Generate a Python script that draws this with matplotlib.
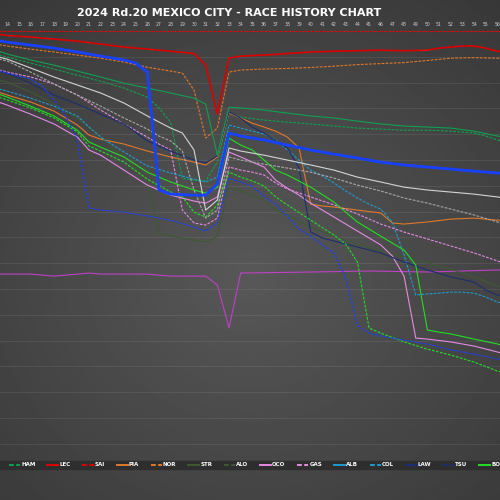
import numpy as np
import matplotlib
matplotlib.use('Agg')
import matplotlib.pyplot as plt
from matplotlib.lines import Line2D
from matplotlib.patches import Rectangle

title = "2024 Rd.20 MEXICO CITY - RACE HISTORY CHART"
total_laps = 71

# gap behind the race winner (SAI) in seconds, read at the laps where each line bends
sai_laps = [13, 57]
sai_gap = [0.0, 0.0]

lec_laps = [13, 14, 16, 18, 20, 22, 24, 26, 28, 30, 31, 32, 33, 34, 36, 38, 40, 42, 44, 46, 48, 50, 51, 52, 53, 54, 55, 56, 57]
lec_gap = [1.0, 1.7, 2.3, 3.1, 3.9, 5.0, 6.2, 7.0, 7.8, 8.7, 13.2, 32.2, 10.5, 9.7, 9.3, 8.7, 8.1, 7.8, 7.6, 7.4, 7.6, 7.4, 6.6, 6.2, 5.8, 5.8, 6.6, 7.8, 8.5]

nor_laps = [13, 14, 16, 18, 20, 22, 24, 26, 28, 29, 30, 31, 32, 33, 34, 36, 38, 40, 42, 44, 46, 48, 50, 52, 54, 56, 57]
nor_gap = [5.0, 5.8, 7.0, 8.1, 9.3, 10.5, 12.0, 14.0, 15.5, 16.3, 22.9, 41.5, 37.6, 15.9, 15.1, 14.7, 14.5, 14.1, 13.6, 13.0, 12.6, 12.2, 11.4, 10.5, 10.3, 10.5, 10.5]

ver_laps = [13, 14, 16, 18, 20, 22, 24, 25, 26, 27, 28, 30, 31, 32, 33, 34, 36, 38, 40, 42, 44, 46, 48, 50, 52, 54, 56, 57]
ver_gap = [3.5, 4.3, 5.4, 6.6, 8.1, 9.7, 11.2, 12.4, 15.9, 61.6, 63.2, 63.6, 63.6, 59.3, 39.5, 40.7, 42.2, 44.2, 46.1, 47.7, 49.2, 50.8, 51.9, 52.7, 53.5, 54.3, 55.0, 55.4]

rus_laps = [13, 14, 16, 18, 20, 22, 24, 26, 28, 30, 31, 32, 33, 34, 36, 38, 40, 42, 44, 46, 48, 50, 52, 54, 56, 57]
rus_gap = [7.4, 8.9, 11.2, 13.2, 15.5, 17.8, 20.2, 22.1, 24.0, 26.0, 28.3, 48.1, 29.5, 29.8, 30.6, 31.8, 32.9, 33.7, 34.9, 36.0, 36.8, 37.2, 37.6, 38.8, 40.7, 41.5]

ham_laps = [13, 14, 16, 18, 20, 22, 24, 26, 27, 28, 29, 30, 31, 32, 33, 34, 36, 38, 40, 42, 44, 46, 48, 50, 52, 54, 55, 56, 57]
ham_gap = [8.9, 10.1, 12.4, 14.7, 17.1, 19.4, 22.1, 25.6, 29.8, 35.3, 57.0, 57.8, 58.1, 50.8, 31.8, 33.3, 34.5, 35.3, 36.0, 36.8, 37.6, 38.0, 38.4, 38.4, 38.8, 39.5, 40.7, 42.2, 43.4]

mag_laps = [13, 14, 16, 18, 20, 22, 24, 26, 28, 29, 30, 31, 32, 33, 34, 36, 38, 40, 42, 44, 46, 48, 50, 52, 54, 56, 57]
mag_gap = [9.7, 10.9, 14.3, 17.8, 20.9, 24.0, 27.9, 32.9, 37.6, 39.5, 46.1, 69.4, 65.5, 45.3, 46.5, 48.1, 50.0, 51.9, 53.9, 56.6, 58.5, 60.5, 61.6, 62.4, 63.2, 64.3, 65.1]

hul_laps = [13, 14, 16, 18, 20, 22, 24, 26, 27, 28, 29, 30, 31, 32, 33, 34, 36, 38, 40, 42, 44, 46, 48, 50, 52, 54, 56, 57]
hul_gap = [10.5, 11.6, 15.9, 20.5, 24.8, 29.1, 33.7, 38.0, 40.7, 42.6, 46.5, 61.6, 72.5, 69.4, 48.8, 50.0, 51.6, 53.1, 54.7, 57.0, 59.7, 62.0, 64.7, 66.7, 69.0, 71.3, 74.0, 75.6]

gas_laps = [13, 14, 16, 18, 20, 22, 24, 26, 27, 28, 29, 30, 31, 32, 33, 34, 35, 36, 37, 38, 40, 42, 44, 46, 48, 50, 52, 54, 56, 57]
gas_gap = [14.7, 15.9, 17.8, 20.5, 24.8, 30.6, 36.0, 41.1, 43.8, 46.1, 69.4, 74.4, 75.2, 72.5, 52.7, 53.9, 54.7, 55.8, 58.9, 61.2, 64.3, 67.4, 70.9, 74.8, 77.9, 80.6, 83.3, 86.0, 89.1, 90.7]

law_laps = [13, 14, 16, 18, 20, 22, 24, 26, 28, 30, 31, 32, 33, 34, 35, 36, 37, 38, 39, 40, 41, 42, 44, 46, 48, 50, 52, 54, 55, 56, 57]
law_gap = [15.1, 16.3, 20.2, 24.8, 28.3, 32.2, 36.0, 42.6, 46.5, 50.0, 51.2, 48.4, 31.4, 33.7, 37.2, 39.5, 42.6, 45.3, 53.1, 77.9, 80.2, 81.4, 83.7, 86.0, 89.5, 92.6, 95.3, 97.3, 100.4, 102.3, 103.5]

pia_laps = [13, 14, 16, 18, 20, 21, 22, 24, 26, 28, 30, 31, 32, 33, 34, 35, 36, 37, 38, 39, 40, 41, 42, 44, 46, 47, 48, 50, 52, 54, 56, 57]
pia_gap = [23.3, 24.8, 27.5, 31.0, 36.4, 40.3, 41.9, 43.8, 46.5, 48.8, 50.8, 51.9, 48.8, 31.8, 33.7, 35.7, 37.2, 38.8, 41.1, 45.3, 67.1, 67.8, 68.2, 69.4, 70.5, 74.4, 74.8, 74.0, 72.9, 72.5, 73.3, 73.6]

col_laps = [13, 14, 16, 18, 20, 21, 22, 24, 26, 28, 30, 31, 32, 33, 34, 35, 36, 37, 38, 39, 40, 41, 42, 43, 44, 45, 46, 47, 48, 49, 50, 51, 52, 53, 54, 55, 56, 57]
col_gap = [22.1, 23.3, 26.0, 29.1, 32.9, 37.2, 41.1, 46.9, 52.3, 55.0, 57.4, 58.5, 56.6, 36.4, 37.6, 38.8, 39.9, 42.2, 46.1, 50.0, 53.9, 56.2, 58.9, 62.0, 64.7, 67.1, 69.0, 74.0, 86.8, 102.3, 101.9, 101.6, 101.2, 101.2, 101.6, 103.1, 105.0, 106.2]

bot_laps = [13, 14, 16, 18, 20, 21, 22, 24, 26, 28, 30, 31, 32, 33, 34, 35, 36, 37, 38, 40, 42, 43, 44, 46, 47, 48, 49, 50, 51, 52, 54, 56, 57]
bot_gap = [24.0, 25.6, 29.1, 32.9, 38.4, 43.0, 45.0, 48.8, 54.7, 58.5, 61.6, 62.8, 60.5, 41.5, 44.2, 46.1, 50.0, 53.9, 55.8, 60.5, 66.3, 70.2, 74.0, 79.5, 82.2, 84.9, 90.7, 115.9, 116.7, 117.4, 119.4, 121.3, 122.5]

oco_laps = [13, 14, 16, 18, 20, 21, 22, 24, 26, 28, 30, 31, 32, 33, 34, 35, 36, 37, 38, 39, 40, 42, 44, 46, 47, 48, 49, 50, 52, 54, 56, 57]
oco_gap = [27.1, 28.7, 32.2, 36.0, 41.1, 46.1, 48.1, 53.9, 59.7, 63.6, 65.9, 66.7, 64.3, 46.9, 48.8, 50.8, 52.7, 57.8, 60.9, 63.6, 66.7, 72.1, 77.5, 82.9, 87.2, 95.0, 119.0, 119.4, 120.5, 122.1, 124.4, 125.6]

zho_laps = [13, 14, 16, 18, 20, 21, 22, 24, 26, 28, 29, 30, 31, 32, 33, 34, 35, 36, 37, 38, 40, 42, 43, 44, 45, 46, 48, 50, 52, 54, 56, 57]
zho_gap = [25.2, 26.7, 29.8, 33.7, 39.1, 44.6, 46.5, 50.8, 57.4, 62.4, 64.3, 70.2, 72.1, 67.4, 54.7, 56.6, 58.1, 60.1, 64.3, 67.4, 73.3, 79.1, 82.6, 89.5, 115.1, 117.1, 120.5, 123.3, 125.6, 128.3, 131.8, 132.9]

per_laps = [13, 14, 16, 17, 18, 19, 20, 21, 22, 24, 26, 28, 30, 31, 32, 33, 34, 35, 36, 37, 38, 39, 40, 41, 42, 43, 44, 45, 46, 48, 50, 52, 54, 56, 57]
per_gap = [15.1, 16.3, 18.6, 21.3, 26.7, 32.9, 42.2, 68.6, 69.4, 70.2, 71.7, 73.3, 76.0, 77.5, 74.4, 57.0, 58.5, 60.1, 64.0, 67.1, 71.7, 76.7, 79.5, 82.9, 86.0, 95.7, 114.0, 117.1, 118.2, 119.8, 121.3, 123.6, 125.2, 127.1, 127.9]

str_laps = [13, 14, 16, 18, 20, 22, 24, 26, 27, 28, 30, 31, 32, 33, 34, 35, 36, 37, 38, 40, 42, 44, 46, 48, 50, 52, 54, 56, 57]
str_gap = [18.6, 19.8, 23.6, 28.3, 33.7, 40.7, 48.8, 57.8, 78.3, 79.5, 81.0, 81.8, 79.5, 60.5, 62.0, 63.6, 65.5, 69.4, 71.3, 76.0, 79.5, 82.6, 85.3, 87.6, 89.9, 92.2, 95.3, 98.8, 100.0]

# retired early, nothing inside the visible window
alo_laps, alo_gap = [], []
alb_laps, alb_gap = [], []
tsu_laps, tsu_gap = [], []

# one-lap-down line (minus the leader's lap time)
lapped_laps = [13, 14, 16, 17, 18, 19, 20, 21, 22, 26, 27, 28, 31, 32, 33, 34, 40, 45, 50, 56, 57]
lapped_gap = [94.2, 94.2, 94.2, 94.6, 95.0, 94.6, 94.2, 93.8, 94.2, 94.2, 94.6, 95.0, 95.0, 98.4, 115.1, 93.8, 93.4, 93.0, 93.4, 92.6, 92.6]

drivers = ['HAM', 'LEC', 'SAI', 'PIA', 'NOR', 'STR', 'ALO', 'OCO', 'GAS', 'ALB',
           'COL', 'LAW', 'TSU', 'BOT', 'ZHO', 'RUS', 'VER', 'PER', 'MAG', 'HUL']
series = {
    'HAM': (ham_laps, ham_gap), 'LEC': (lec_laps, lec_gap), 'SAI': (sai_laps, sai_gap),
    'PIA': (pia_laps, pia_gap), 'NOR': (nor_laps, nor_gap), 'STR': (str_laps, str_gap),
    'ALO': (alo_laps, alo_gap), 'OCO': (oco_laps, oco_gap), 'GAS': (gas_laps, gas_gap),
    'ALB': (alb_laps, alb_gap), 'COL': (col_laps, col_gap), 'LAW': (law_laps, law_gap),
    'TSU': (tsu_laps, tsu_gap), 'BOT': (bot_laps, bot_gap), 'ZHO': (zho_laps, zho_gap),
    'RUS': (rus_laps, rus_gap), 'VER': (ver_laps, ver_gap), 'PER': (per_laps, per_gap),
    'MAG': (mag_laps, mag_gap), 'HUL': (hul_laps, hul_gap),
}
colors = {
    'HAM': '#10a050', 'RUS': '#10a050', 'LEC': '#dd0000', 'SAI': '#dd0000',
    'PIA': '#e0782a', 'NOR': '#e0782a', 'STR': '#3e5a32', 'ALO': '#3e5a32',
    'OCO': '#e58ae6', 'GAS': '#e58ae6', 'ALB': '#1e9bd0', 'COL': '#1e9bd0',
    'LAW': '#1c2f70', 'TSU': '#1c2f70', 'BOT': '#22dd22', 'ZHO': '#22dd22',
    'VER': '#1840ff', 'PER': '#1840ff', 'MAG': '#d4d4d4', 'HUL': '#a8a8a8',
}
dashed = {'HAM', 'SAI', 'NOR', 'ALO', 'GAS', 'COL', 'TSU', 'ZHO', 'PER', 'HUL'}
widths = {'VER': 2.0, 'LEC': 1.2}

fig = plt.figure(figsize=(5, 5), dpi=100)

# dark radial background
bg = fig.add_axes([0, 0, 1, 1], zorder=-2)
yy, xx = np.mgrid[0:1:300j, 0:1:300j]
r = np.hypot(xx - 0.5, (yy - 0.45) * 1.1)
bg.imshow(np.clip(0.345 - 0.16 * r, 0.2, 0.4), cmap='gray', vmin=0, vmax=1,
          extent=[0, 1, 0, 1], origin='lower', aspect='auto')
bg.axis('off')

ax = fig.add_axes([0, 0.084, 1, 0.86])
ax.set_facecolor('none')

ax.plot(lapped_laps, lapped_gap, color='#c040c8', lw=0.8, zorder=2)

handles = []
for d in drivers:
    laps, gap = series[d]
    ls = (0, (2.5, 1.2)) if d in dashed else '-'
    ax.plot(laps, gap, color=colors[d], ls=ls, lw=widths.get(d, 0.8),
            zorder=4 if d == 'VER' else 3)
    handles.append(Line2D([], [], color=colors[d], ls=ls, lw=1.4))

ax.set_xticks(range(1, total_laps + 1))
ax.set_yticks(np.arange(0, 170, 10))
ax.set_xlim(13.374, 56.22)
ax.set_ylim(165.5, -1.2)
ax.yaxis.grid(True, color='white', alpha=0.08, lw=0.7)
ax.set_yticklabels([])
ax.tick_params(axis='y', length=0)
ax.xaxis.tick_top()
ax.tick_params(axis='x', length=0, pad=0.8, labelsize=3.3, colors='#cfcfcf')
for s in ax.spines.values():
    s.set_visible(False)

fig.text(0.458, 0.974, title, ha='center', va='center', color='white',
         fontsize=8.0, fontweight='bold')

fig.add_artist(Rectangle((0, 0.062), 1, 0.016, transform=fig.transFigure,
                         color='#2e2e2e', zorder=5))
leg = fig.legend(handles, drivers, loc='center left', bbox_to_anchor=(0.018, 0.07),
                 ncol=len(drivers), frameon=False, prop={'size': 4, 'weight': 'bold'},
                 handlelength=2.0, handletextpad=0.2, columnspacing=2.1,
                 borderpad=0, borderaxespad=0)
leg.set_zorder(6)
for t in leg.get_texts():
    t.set_color('white')

fig.savefig('out.png', dpi=100)
